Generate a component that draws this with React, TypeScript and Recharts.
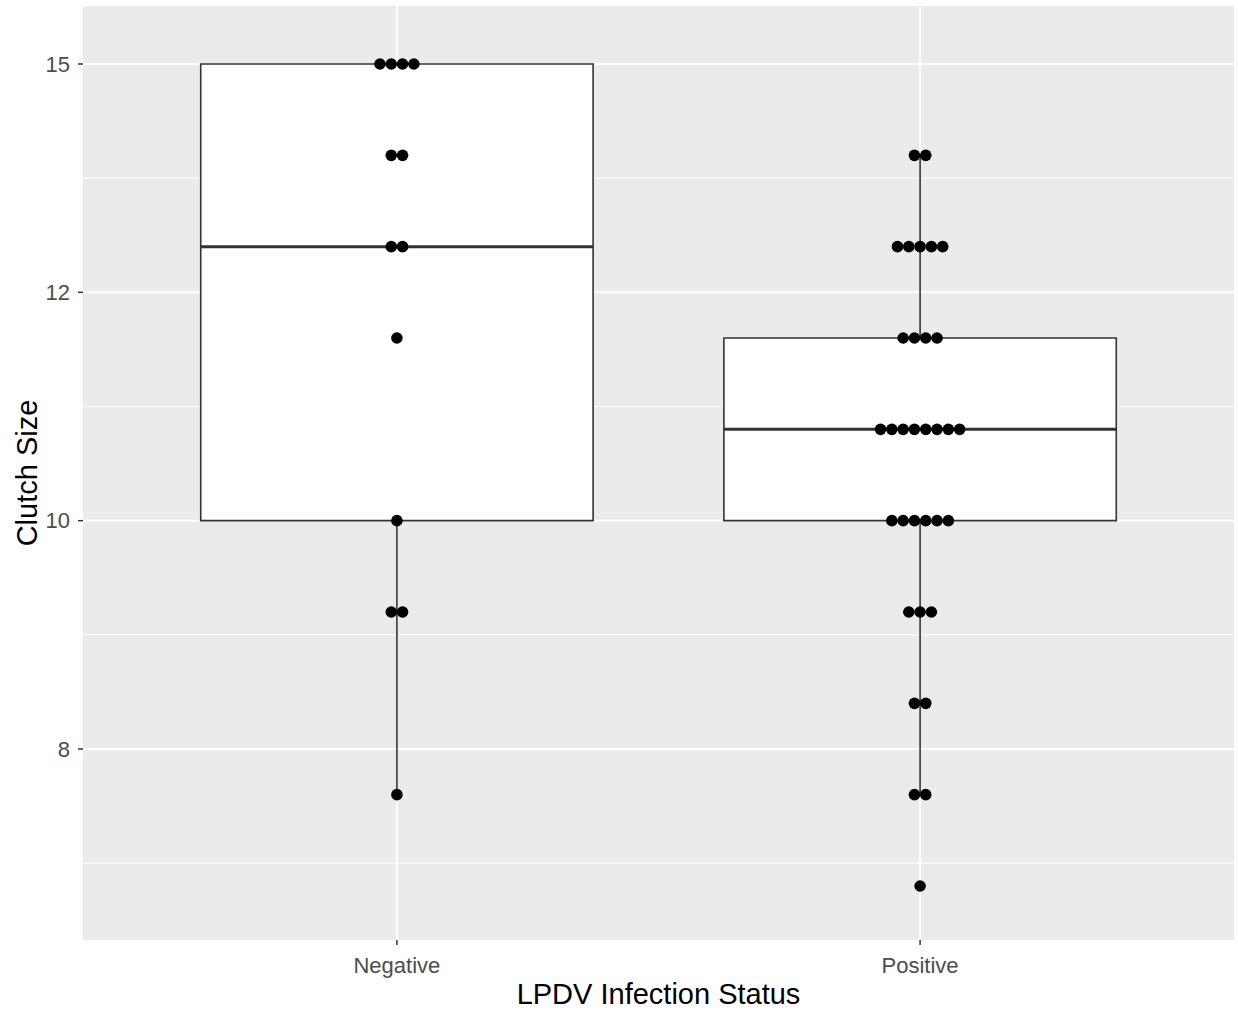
import React from "react";
import {
  ComposedChart,
  XAxis,
  YAxis,
  CartesianGrid,
  ReferenceArea,
  ReferenceLine,
  Scatter,
  Label,
} from "recharts";

// groups on the x axis
const categories = ["Negative", "Positive"];

// dotplot rows (bin centres, log clutch size) and dot counts per row
const binCentres = [2.7, 2.62, 2.54, 2.46, 2.38, 2.3, 2.22, 2.14, 2.06, 1.98];
const negativeCounts = [4, 2, 2, 1, 0, 1, 2, 0, 1, 0];
const positiveCounts = [0, 2, 5, 4, 8, 6, 3, 2, 2, 1];

// box statistics, one entry per category
const whiskerLow = [2.06, 2.06];
const boxQ1 = [2.3, 2.3];
const boxMedian = [2.54, 2.38];
const boxQ3 = [2.7, 2.46];
const whiskerHigh = [2.7, 2.62];

// y axis ticks
const yTicks = [2.1, 2.3, 2.5, 2.7];
const yTickLabels = ["8", "10", "12", "15"];
const yMinorTicks = [2.0, 2.2, 2.4, 2.6];

const FONT = "'Liberation Sans', Arial, sans-serif";
const BOX_HALF = 0.375;
const DOT_STEP = 0.0216; // one dot diameter, in category units

function stackDots(counts: number[], cat: number) {
  const pts: { x: number; y: number }[] = [];
  counts.forEach((n, i) => {
    for (let j = 0; j < n; j++) {
      pts.push({ x: cat + (j - (n - 1) / 2) * DOT_STEP, y: binCentres[i] });
    }
  });
  return pts;
}

const dots = [...stackDots(negativeCounts, 1), ...stackDots(positiveCounts, 2)];

const Dot = (p: any) => <circle cx={p.cx} cy={p.cy} r={5.8} fill="#000" />;

export default function App() {
  return (
    <div style={{ position: "absolute", left: 0, top: 0, width: 1238, height: 1014, background: "#fff" }}>
      <ComposedChart
        width={1238}
        height={1014}
        margin={{ top: 6, right: 4, left: 0, bottom: 0 }}
        style={{ fontFamily: FONT }}
      >
        <CartesianGrid
          horizontalValues={yMinorTicks}
          vertical={false}
          fill="#EBEBEB"
          fillOpacity={1}
          stroke="#FFFFFF"
          strokeWidth={1}
        />
        <CartesianGrid
          horizontalValues={yTicks}
          verticalValues={[1, 2]}
          stroke="#FFFFFF"
          strokeWidth={2}
        />
        <XAxis
          type="number"
          dataKey="x"
          domain={[0.4, 2.6]}
          ticks={[1, 2]}
          allowDataOverflow
          tickFormatter={(v: number) => categories[v - 1]}
          height={74}
          axisLine={false}
          tickSize={5}
          tickMargin={12}
          tickLine={{ stroke: "#333333", strokeWidth: 1.5 }}
          tick={{ fill: "#4D4D4D", fontSize: 22, fontFamily: FONT }}
        >
          <Label
            content={(props: any) => {
              const vb = props.viewBox;
              return (
                <text x={vb.x + vb.width / 2} y={vb.y + 64} textAnchor="middle" fill="#000" fontSize={29} fontFamily={FONT}>
                  LPDV Infection Status
                </text>
              );
            }}
          />
        </XAxis>
        <YAxis
          type="number"
          dataKey="y"
          domain={[1.9327, 2.7508]}
          ticks={yTicks}
          allowDataOverflow
          tickFormatter={(v: number) => yTickLabels[yTicks.indexOf(v)]}
          width={83}
          axisLine={false}
          tickSize={5}
          tickMargin={8}
          tickLine={{ stroke: "#333333", strokeWidth: 1.5 }}
          tick={{ fill: "#4D4D4D", fontSize: 22, fontFamily: FONT }}
        >
          <Label
            content={(props: any) => {
              const vb = props.viewBox;
              const x = vb.x + 37;
              const y = vb.y + vb.height / 2;
              return (
                <text x={x} y={y} transform={`rotate(-90 ${x} ${y})`} textAnchor="middle" fill="#000" fontSize={29} fontFamily={FONT}>
                  Clutch Size
                </text>
              );
            }}
          />
        </YAxis>

        {categories.map((c, i) => (
          <ReferenceLine
            key={"wl" + c}
            segment={[{ x: i + 1, y: boxQ1[i] }, { x: i + 1, y: whiskerLow[i] }]}
            stroke="#333333"
            strokeWidth={1.6}
          />
        ))}
        {categories.map((c, i) => (
          <ReferenceLine
            key={"wh" + c}
            segment={[{ x: i + 1, y: boxQ3[i] }, { x: i + 1, y: whiskerHigh[i] }]}
            stroke="#333333"
            strokeWidth={1.6}
          />
        ))}
        {categories.map((c, i) => (
          <ReferenceArea
            key={"box" + c}
            x1={i + 1 - BOX_HALF}
            x2={i + 1 + BOX_HALF}
            y1={boxQ1[i]}
            y2={boxQ3[i]}
            fill="#FFFFFF"
            fillOpacity={1}
            stroke="#333333"
            strokeWidth={1.6}
          />
        ))}
        {categories.map((c, i) => (
          <ReferenceLine
            key={"med" + c}
            segment={[
              { x: i + 1 - BOX_HALF, y: boxMedian[i] },
              { x: i + 1 + BOX_HALF, y: boxMedian[i] },
            ]}
            stroke="#333333"
            strokeWidth={3}
          />
        ))}

        <Scatter data={dots} dataKey="y" shape={Dot} isAnimationActive={false} />
      </ComposedChart>
    </div>
  );
}
